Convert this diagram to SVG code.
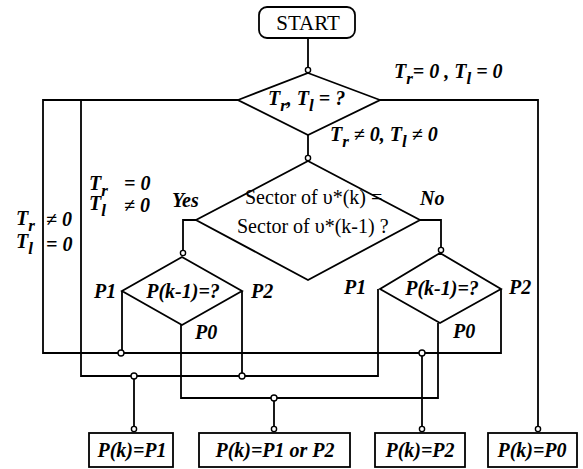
<svg xmlns="http://www.w3.org/2000/svg" width="583" height="469" viewBox="0 0 583 469">
<defs>
<marker id="ring" markerUnits="userSpaceOnUse" markerWidth="10" markerHeight="10" viewBox="0 0 10 10" refX="8" refY="5" orient="auto">
<circle cx="5" cy="5" r="2.6" fill="#fff" stroke="#000" stroke-width="1.4"/>
</marker>
</defs>
<style>
.ln{fill:none;stroke:#000;stroke-width:1.8}
.sh{fill:#fff;stroke:#000;stroke-width:1.8}
.jn{fill:#fff;stroke:#000;stroke-width:1.4}
.it{font-family:"Liberation Serif",serif;font-style:italic;font-weight:bold;font-size:20px;fill:#000}
.rm{font-family:"Liberation Serif",serif;font-size:20px;fill:#000}
.sb{font-size:17px}
</style>
<rect width="583" height="469" fill="#fff"/>
<g id="connectors">
<path class="ln" d="M308,38 V73" marker-end="url(#ring)"/>
<path class="ln" d="M238,100 H43 V353 H501 V289"/>
<path class="ln" d="M81,100 V376 H378 V289"/>
<path class="ln" d="M380,100 H538 V432" marker-end="url(#ring)"/>
<path class="ln" d="M308,135 V161" marker-end="url(#ring)"/>
<path class="ln" d="M196,220 H183 V256" marker-end="url(#ring)"/>
<path class="ln" d="M420,220 H441 V253" marker-end="url(#ring)"/>
<path class="ln" d="M122,291 V353"/>
<path class="ln" d="M242,291 V376"/>
<path class="ln" d="M181,325 V398 H438 V323"/>
<path class="ln" d="M134,376 V432" marker-end="url(#ring)"/>
<path class="ln" d="M274,398 V432" marker-end="url(#ring)"/>
<path class="ln" d="M422,353 V432" marker-end="url(#ring)"/>
<circle class="jn" cx="121" cy="353" r="3"/>
<circle class="jn" cx="134" cy="376" r="3"/>
<circle class="jn" cx="242" cy="376" r="3"/>
<circle class="jn" cx="274" cy="398" r="3"/>
<circle class="jn" cx="422" cy="353" r="3"/>
</g>
<g id="start">
<rect class="sh" x="259" y="7" width="96" height="31" rx="8"/>
<text class="rm" x="308" y="30" text-anchor="middle" style="font-size:21px">START</text>
</g>
<g id="dec-torque">
<polygon class="sh" points="308,73 380,100 308,135 238,100"/>
<text class="it" x="268" y="105">T<tspan class="sb" dy="6">r</tspan><tspan dy="-6">, T</tspan><tspan class="sb" dy="6">l</tspan><tspan dy="-6"> = ?</tspan></text>
</g>
<g id="dec-sector">
<polygon class="sh" points="308,161 420,220 308,280 196,220"/>
<text class="rm" x="245" y="204">Sector of υ*(k) =</text>
<text class="rm" x="237" y="233">Sector of υ*(k-1) ?</text>
</g>
<g id="dec-left">
<polygon class="sh" points="182,257 242,291 182,325 122,291"/>
<text class="it" x="183" y="298" text-anchor="middle">P(k-1)=?</text>
</g>
<g id="dec-right">
<polygon class="sh" points="440,253 501,289 440,323 380,289"/>
<text class="it" x="442" y="295" text-anchor="middle">P(k-1)=?</text>
</g>
<g id="out-p1">
<rect class="sh" x="89" y="433" width="84" height="34"/>
<text class="it" x="132" y="457" text-anchor="middle">P(k)=P1</text>
</g>
<g id="out-p1p2">
<rect class="sh" x="199" y="433" width="151" height="34"/>
<text class="it" x="275" y="457" text-anchor="middle">P(k)=P1 or P2</text>
</g>
<g id="out-p2">
<rect class="sh" x="375" y="433" width="90" height="34"/>
<text class="it" x="420" y="457" text-anchor="middle">P(k)=P2</text>
</g>
<g id="out-p0">
<rect class="sh" x="488" y="433" width="89" height="34"/>
<text class="it" x="532" y="457" text-anchor="middle">P(k)=P0</text>
</g>
<g id="labels">
<text class="it" x="394" y="78">T<tspan class="sb" dy="6">r</tspan><tspan dy="-6">= 0 , T</tspan><tspan class="sb" dy="6">l</tspan><tspan dy="-6"> = 0</tspan></text>
<text class="it" x="330" y="141">T<tspan class="sb" dy="6">r</tspan><tspan dy="-6"> ≠ 0, T</tspan><tspan class="sb" dy="6">l</tspan><tspan dy="-6"> ≠ 0</tspan></text>
<text class="it" x="16" y="225">T<tspan class="sb" dy="6">r</tspan></text>
<text class="it" x="46" y="226">≠ 0</text>
<text class="it" x="16" y="248">T<tspan class="sb" dy="6">l</tspan></text>
<text class="it" x="46" y="251">= 0</text>
<text class="it" x="89" y="190">T<tspan class="sb" dy="6">r</tspan></text>
<text class="it" x="124" y="190">= 0</text>
<text class="it" x="89" y="210">T<tspan class="sb" dy="6">l</tspan></text>
<text class="it" x="124" y="212">≠ 0</text>
<text class="it" x="172" y="207">Yes</text>
<text class="it" x="420" y="205">No</text>
<text class="it" x="94" y="298">P1</text>
<text class="it" x="251" y="298">P2</text>
<text class="it" x="195" y="339">P0</text>
<text class="it" x="344" y="294">P1</text>
<text class="it" x="509" y="294">P2</text>
<text class="it" x="453" y="338">P0</text>
</g>
</svg>
